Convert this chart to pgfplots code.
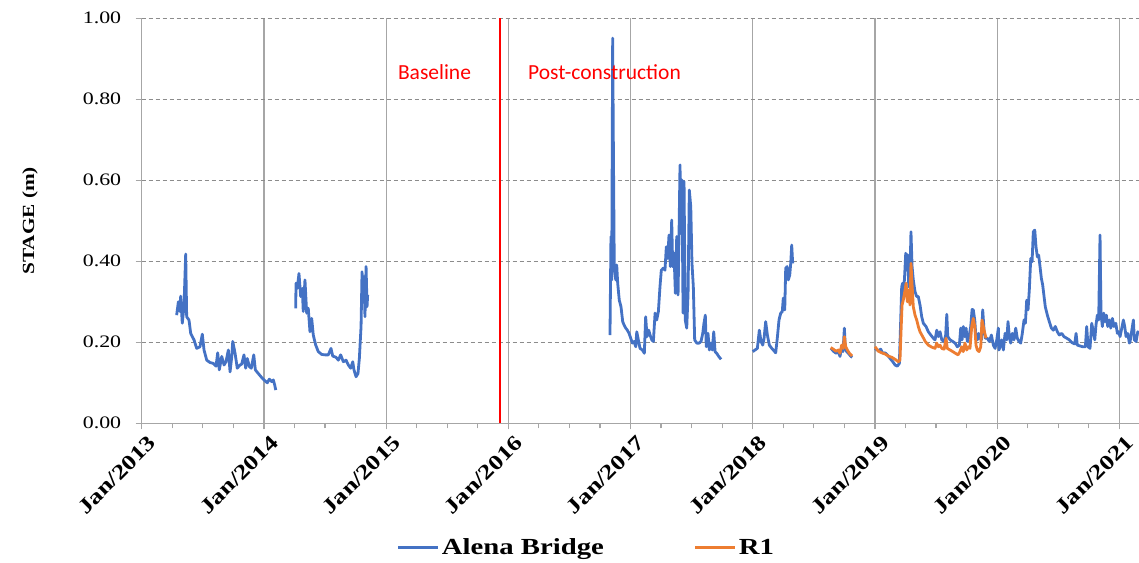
\documentclass[border=0pt]{standalone}
\usepackage{fontspec}
\setmainfont{Liberation Serif}[FakeStretch=1.25]
\newfontfamily\calibri{Carlito}
\usepackage{pgfplots}
\pgfplotsset{compat=1.18}
\usepackage{pgfplotstable}

\definecolor{bridgeblue}{HTML}{4472C4}
\definecolor{rorange}{HTML}{ED7D31}
\definecolor{gridgray}{HTML}{A6A6A6}
\definecolor{dashgray}{HTML}{8C8C8C}
\definecolor{phasered}{HTML}{FF0000}

% Stage at Alena Bridge (decimal year, metres); nan rows mark logger gaps
\pgfplotstableread{
x y
2013.286 0.267
2013.300 0.300
2013.313 0.276
2013.319 0.314
2013.332 0.247
2013.346 0.288
2013.360 0.418
2013.368 0.263
2013.387 0.255
2013.401 0.222
2013.428 0.206
2013.450 0.185
2013.477 0.189
2013.496 0.220
2013.510 0.181
2013.532 0.156
2013.559 0.150
2013.586 0.148
2013.608 0.141
2013.622 0.174
2013.635 0.132
2013.655 0.165
2013.674 0.144
2013.690 0.152
2013.709 0.181
2013.723 0.127
2013.737 0.165
2013.745 0.202
2013.764 0.173
2013.782 0.136
2013.804 0.144
2013.818 0.146
2013.837 0.169
2013.851 0.136
2013.864 0.160
2013.881 0.140
2013.897 0.136
2013.917 0.169
2013.930 0.132
2013.954 0.123
2013.976 0.115
2014.001 0.107
2014.028 0.100
2014.044 0.109
2014.064 0.103
2014.077 0.107
2014.088 0.095
2014.097 0.082
nan nan
2014.260 0.284
2014.263 0.346
2014.273 0.333
2014.287 0.370
2014.301 0.313
2014.314 0.333
2014.322 0.276
2014.336 0.354
2014.350 0.272
2014.363 0.284
2014.377 0.226
2014.391 0.259
2014.404 0.218
2014.424 0.193
2014.445 0.177
2014.473 0.170
2014.500 0.169
2014.527 0.169
2014.549 0.185
2014.563 0.166
2014.590 0.163
2014.609 0.156
2014.628 0.169
2014.650 0.152
2014.672 0.156
2014.691 0.144
2014.710 0.136
2014.727 0.152
2014.737 0.132
2014.754 0.115
2014.770 0.123
2014.781 0.160
2014.795 0.239
2014.803 0.374
2014.811 0.313
2014.819 0.362
2014.827 0.263
2014.836 0.387
2014.844 0.288
2014.849 0.317
nan nan
2016.832 0.218
2016.840 0.461
2016.846 0.354
2016.854 0.951
2016.859 0.716
2016.867 0.387
2016.879 0.354
2016.887 0.391
2016.895 0.346
2016.908 0.304
2016.922 0.288
2016.936 0.251
2016.947 0.243
2016.961 0.235
2016.974 0.230
2016.988 0.222
2017.002 0.210
2017.015 0.198
2017.029 0.202
2017.043 0.189
2017.051 0.226
2017.064 0.206
2017.078 0.185
2017.097 0.181
2017.113 0.173
2017.124 0.263
2017.135 0.214
2017.149 0.230
2017.160 0.218
2017.174 0.206
2017.187 0.202
2017.201 0.272
2017.214 0.255
2017.228 0.276
2017.241 0.337
2017.252 0.378
2017.268 0.383
2017.282 0.378
2017.293 0.436
2017.304 0.407
2017.315 0.465
2017.326 0.387
2017.337 0.502
2017.345 0.387
2017.356 0.420
2017.367 0.321
2017.378 0.461
2017.389 0.317
2017.397 0.469
2017.405 0.638
2017.413 0.469
2017.421 0.601
2017.430 0.272
2017.438 0.597
2017.448 0.255
2017.460 0.235
2017.471 0.321
2017.481 0.576
2017.493 0.535
2017.503 0.395
2017.514 0.337
2017.525 0.206
2017.542 0.198
2017.561 0.198
2017.577 0.202
2017.591 0.222
2017.601 0.247
2017.612 0.267
2017.620 0.189
2017.634 0.222
2017.645 0.181
2017.659 0.198
2017.669 0.181
2017.681 0.226
2017.692 0.177
2017.705 0.173
2017.722 0.165
2017.741 0.158
nan nan
2018.000 0.177
2018.019 0.181
2018.038 0.185
2018.054 0.230
2018.068 0.202
2018.082 0.193
2018.093 0.210
2018.106 0.251
2018.120 0.218
2018.136 0.193
2018.156 0.185
2018.174 0.179
2018.188 0.174
2018.201 0.210
2018.215 0.255
2018.229 0.272
2018.242 0.276
2018.250 0.309
2018.262 0.280
2018.270 0.383
2018.281 0.387
2018.291 0.354
2018.303 0.366
2018.311 0.395
2018.319 0.440
2018.327 0.395
nan nan
2018.641 0.185
2018.660 0.178
2018.682 0.173
2018.701 0.177
2018.714 0.165
2018.728 0.189
2018.739 0.177
2018.750 0.235
2018.758 0.185
2018.769 0.177
2018.782 0.173
2018.804 0.165
2018.815 0.163
nan nan
2019.001 0.185
2019.028 0.179
2019.047 0.183
2019.064 0.173
2019.083 0.174
2019.101 0.169
2019.124 0.160
2019.146 0.152
2019.165 0.144
2019.183 0.141
2019.200 0.148
2019.211 0.255
2019.219 0.337
2019.227 0.346
2019.236 0.325
2019.244 0.370
2019.252 0.420
2019.260 0.378
2019.268 0.416
2019.277 0.337
2019.287 0.370
2019.295 0.473
2019.304 0.387
2019.314 0.354
2019.328 0.325
2019.342 0.313
2019.355 0.313
2019.369 0.292
2019.383 0.263
2019.396 0.247
2019.418 0.239
2019.437 0.226
2019.457 0.218
2019.478 0.210
2019.492 0.206
2019.506 0.230
2019.519 0.214
2019.533 0.226
2019.547 0.206
2019.566 0.202
2019.579 0.218
2019.588 0.269
2019.596 0.214
2019.615 0.206
2019.637 0.202
2019.656 0.198
2019.674 0.189
2019.691 0.193
2019.702 0.235
2019.713 0.206
2019.723 0.239
2019.735 0.214
2019.746 0.235
2019.756 0.202
2019.770 0.214
2019.784 0.239
2019.795 0.281
2019.805 0.280
2019.817 0.255
2019.827 0.210
2019.838 0.206
2019.849 0.222
2019.860 0.210
2019.871 0.206
2019.882 0.280
2019.893 0.230
2019.903 0.210
2019.920 0.210
2019.936 0.202
2019.953 0.218
2019.969 0.193
2019.983 0.185
2019.997 0.206
2020.010 0.235
2020.015 0.181
2020.024 0.189
2020.038 0.206
2020.051 0.181
2020.065 0.222
2020.079 0.206
2020.089 0.251
2020.100 0.214
2020.111 0.198
2020.124 0.222
2020.138 0.206
2020.152 0.235
2020.165 0.210
2020.179 0.202
2020.193 0.198
2020.206 0.222
2020.220 0.255
2020.231 0.247
2020.242 0.304
2020.253 0.280
2020.264 0.333
2020.275 0.407
2020.286 0.399
2020.296 0.473
2020.308 0.477
2020.318 0.436
2020.329 0.411
2020.340 0.415
2020.351 0.387
2020.362 0.358
2020.373 0.341
2020.384 0.313
2020.394 0.288
2020.411 0.267
2020.427 0.251
2020.444 0.235
2020.460 0.230
2020.476 0.239
2020.493 0.226
2020.509 0.218
2020.529 0.222
2020.547 0.214
2020.570 0.210
2020.591 0.206
2020.613 0.199
2020.635 0.196
2020.646 0.222
2020.656 0.193
2020.678 0.191
2020.700 0.189
2020.722 0.189
2020.733 0.239
2020.744 0.189
2020.760 0.185
2020.774 0.247
2020.787 0.226
2020.799 0.206
2020.809 0.243
2020.820 0.267
2020.831 0.255
2020.842 0.465
2020.850 0.272
2020.861 0.239
2020.872 0.272
2020.883 0.251
2020.894 0.267
2020.905 0.239
2020.918 0.255
2020.930 0.235
2020.943 0.259
2020.957 0.239
2020.971 0.247
2020.984 0.222
2020.995 0.226
2021.006 0.214
2021.020 0.235
2021.033 0.255
2021.044 0.239
2021.055 0.214
2021.069 0.222
2021.082 0.198
2021.088 0.202
2021.115 0.255
2021.123 0.206
2021.137 0.202
2021.151 0.226
2021.161 0.222
}\alenatable

% Stage at R1 (decimal year, metres)
\pgfplotstableread{
x y
2018.638 0.187
2018.660 0.183
2018.682 0.178
2018.701 0.181
2018.714 0.173
2018.728 0.193
2018.741 0.185
2018.750 0.214
2018.761 0.189
2018.774 0.181
2018.791 0.173
2018.813 0.166
nan nan
2019.001 0.189
2019.028 0.178
2019.056 0.174
2019.083 0.171
2019.110 0.166
2019.138 0.163
2019.165 0.158
2019.192 0.152
2019.205 0.156
2019.214 0.230
2019.222 0.292
2019.232 0.304
2019.244 0.325
2019.255 0.346
2019.265 0.300
2019.277 0.329
2019.287 0.292
2019.295 0.395
2019.304 0.341
2019.314 0.288
2019.328 0.267
2019.342 0.255
2019.355 0.239
2019.369 0.226
2019.391 0.214
2019.412 0.202
2019.437 0.193
2019.465 0.188
2019.492 0.185
2019.506 0.198
2019.519 0.189
2019.533 0.193
2019.547 0.185
2019.566 0.183
2019.582 0.210
2019.592 0.185
2019.615 0.181
2019.637 0.177
2019.658 0.173
2019.680 0.169
2019.696 0.177
2019.710 0.189
2019.723 0.177
2019.737 0.198
2019.751 0.181
2019.764 0.189
2019.778 0.185
2019.792 0.239
2019.805 0.259
2019.817 0.239
2019.827 0.193
2019.838 0.181
2019.852 0.177
2019.866 0.189
2019.876 0.255
2019.887 0.239
2019.899 0.222
2019.909 0.210
}\rtable

\begin{document}
\begin{tikzpicture}
\useasboundingbox (0,0) rectangle (1139pt,562pt);
\begin{axis}[
  at={(141.7pt,138.7pt)}, anchor=south west,
  scale only axis, width=997.3pt, height=405pt,
  xmin=2013, xmax=2021.161, ymin=0, ymax=1,
  axis x line*=bottom, axis y line*=left,
  axis line style={draw=gridgray, line width=1.2pt},
  xtick={2013,2014,2015,2016,2017,2018,2019,2020,2021},
  xticklabels={Jan/2013,Jan/2014,Jan/2015,Jan/2016,Jan/2017,Jan/2018,Jan/2019,Jan/2020,Jan/2021},
  minor x tick num=3,
  ytick={0,0.2,0.4,0.6,0.8,1},
  yticklabel style={font=\fontsize{17.5}{20}\selectfont, anchor=east, xshift=-11pt,
    /pgf/number format/.cd, fixed, fixed zerofill, precision=2, assume math mode=true},
  xticklabel style={font=\bfseries\fontsize{21}{24}\selectfont, rotate=45, anchor=north east, xshift=4pt, yshift=-4pt},
  tick align=outside,
  major tick length=6pt, minor tick length=5pt,
  every tick/.style={draw=gridgray, line width=1.2pt},
  grid=major,
  major x grid style={draw=gridgray, line width=1.2pt},
  major y grid style={draw=dashgray, line width=1pt, dash pattern=on 4pt off 3pt},
  ylabel={\bfseries STAGE (m)},
  ylabel style={font=\fontsize{17}{20}\selectfont, at={(axis description cs:-0.112,0.5)}, anchor=center},
  unbounded coords=jump,
  legend columns=2,
  legend style={at={(axis description cs:0.446,-0.306)}, anchor=center, draw=none, fill=none,
    font=\bfseries\fontsize{23}{26}\selectfont,
    /tikz/every even column/.append style={column sep=88pt}},
  legend image code/.code={\draw[#1, line width=3pt] (0pt,0pt) -- (40pt,0pt);},
]
% boundary between the baseline and post-construction periods
\addplot[color=phasered, draw=phasered, line width=2pt, forget plot] coordinates {(2015.929,0) (2015.929,1)};
\addplot[bridgeblue, line width=2.8pt, line join=round] table[x=x, y=y] {\alenatable};
\addlegendentry{Alena Bridge}
\addplot[rorange, line width=2.8pt, line join=round] table[x=x, y=y] {\rtable};
\addlegendentry{R1}
\node[text=phasered, font=\calibri\fontsize{21.5}{24}\selectfont] at (axis cs:2015.396,0.867) {Baseline};
\node[text=phasered, font=\calibri\fontsize{21.5}{24}\selectfont] at (axis cs:2016.787,0.867) {Post-construction};
\end{axis}
\end{tikzpicture}
\end{document}
